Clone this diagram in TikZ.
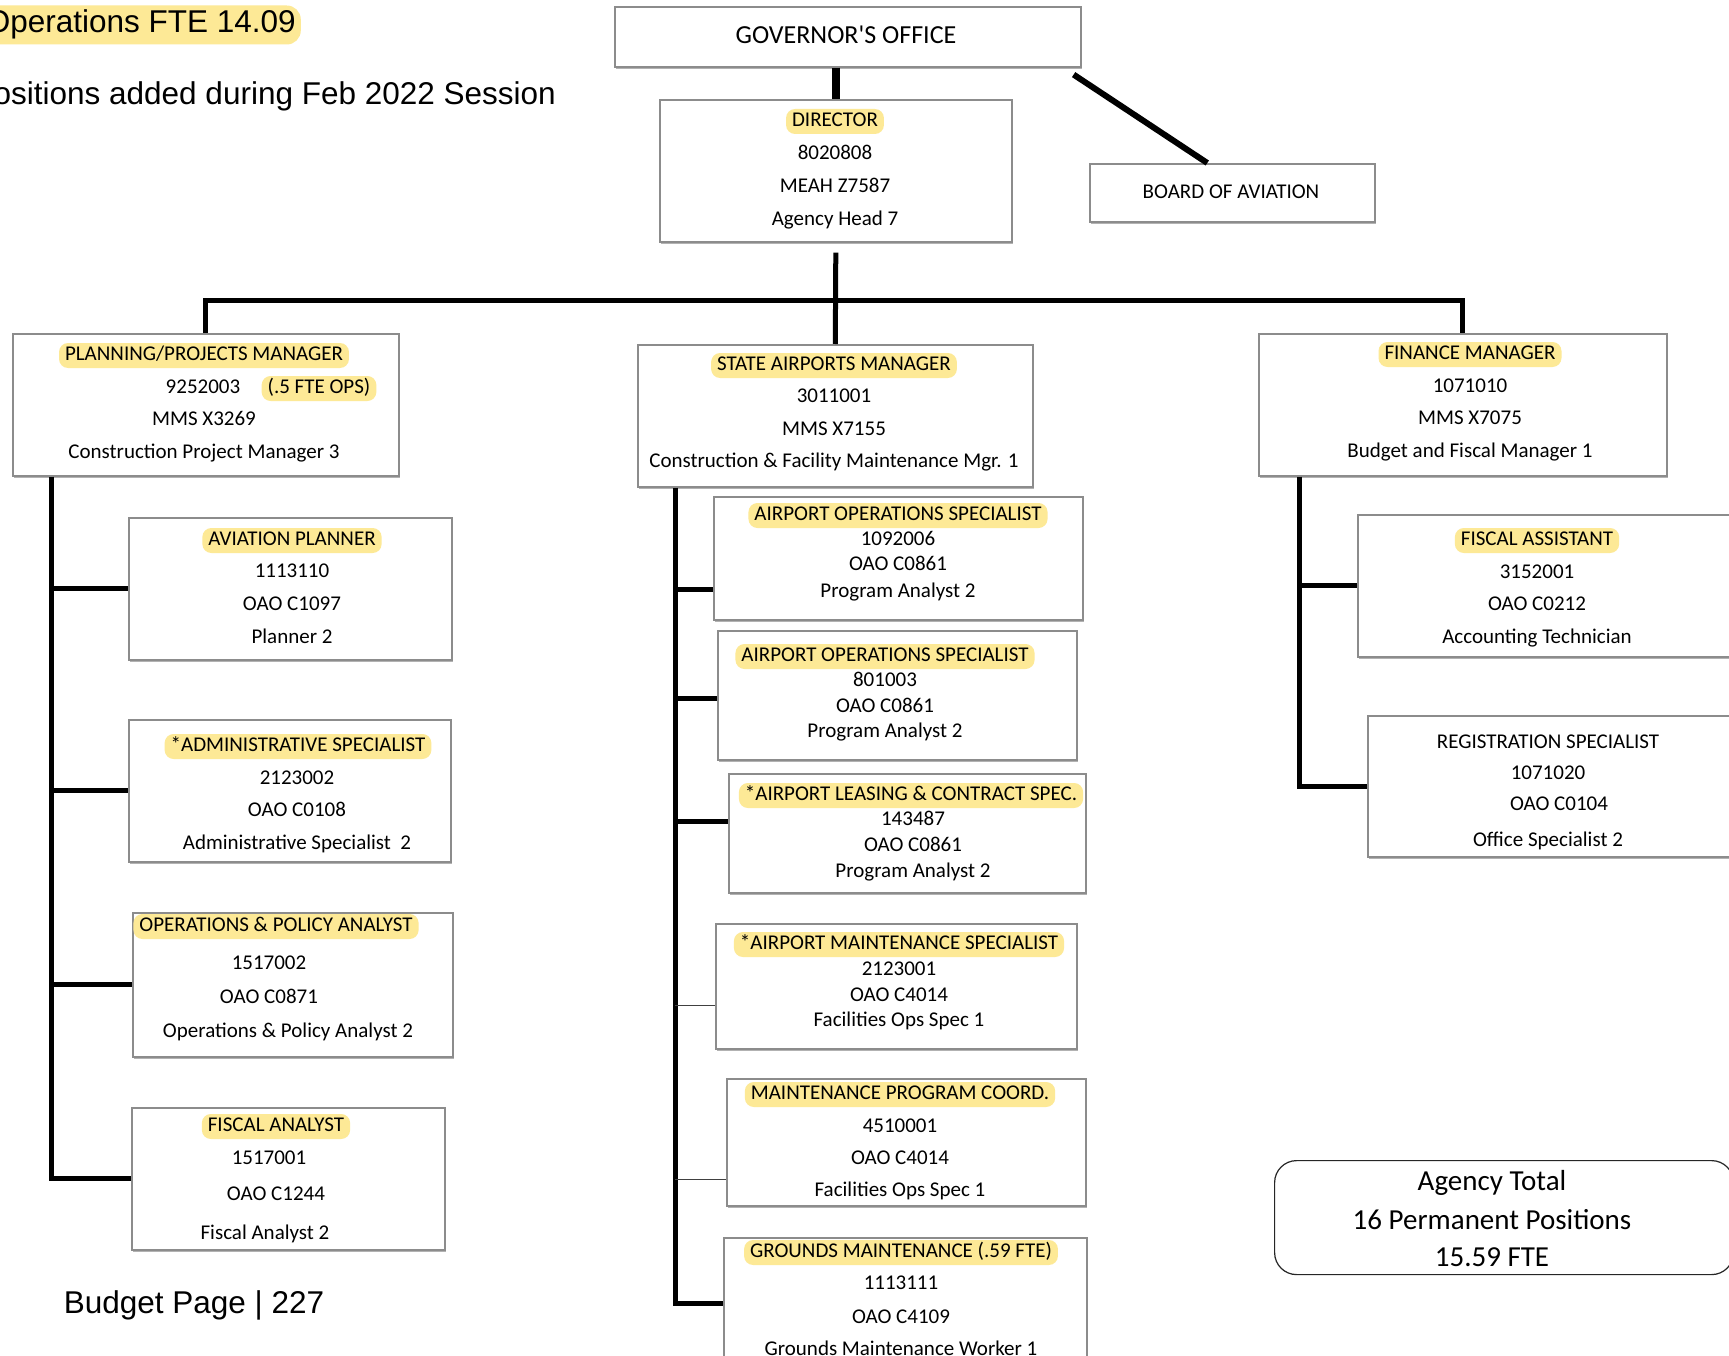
\documentclass[tikz,border=0pt]{standalone}
\usepackage{fontspec}
\setmainfont{Carlito}
\newfontfamily\arialf{Liberation Sans}
\usetikzlibrary{shadows,calc}
\definecolor{hlc}{RGB}{253,233,150}
\definecolor{boxc}{RGB}{140,140,140}
\begin{document}
\begin{tikzpicture}[x=1pt,y=-1pt,
 box/.style={draw=boxc, line width=1.6pt, fill=white, anchor=north west, inner sep=0pt,
   drop shadow={shadow xshift=1.5pt, shadow yshift=-2.5pt, opacity=.3, fill=black}},
 t/.style={font=\fontsize{21}{25}\selectfont, text height=15pt, text depth=5pt, inner sep=0pt, yshift=-2.5pt},
 hl/.style={t, fill=hlc, rounded corners=9pt, inner xsep=6pt, inner ysep=2.5pt},
 conn/.style={line width=5pt, black},
 thinc/.style={line width=1.2pt, black!75},
 big/.style={font=\arialf\fontsize{31.5}{36}\selectfont, inner sep=0pt, text height=23pt, text depth=7pt, yshift=-3pt},
 tot/.style={font=\fontsize{29}{34}\selectfont, inner sep=0pt, text height=20pt, text depth=7pt, yshift=-3pt}
]
\useasboundingbox (0,0) rectangle (1729,1356);
\fill[white] (0,0) rectangle (1729,1356);

% boxes
\node[box, minimum width=466pt, minimum height=60pt] (gov) at (614,6) {};
\node[box, minimum width=352pt, minimum height=142pt] (dir) at (659,99) {};
\node[box, minimum width=285pt, minimum height=58pt] (board) at (1089,163) {};
\node[box, minimum width=386pt, minimum height=142pt] (pl) at (12,333) {};
\node[box, minimum width=395pt, minimum height=142pt] (sa) at (637,344) {};
\node[box, minimum width=408pt, minimum height=142pt] (fm) at (1258,333) {};
\node[box, minimum width=323pt, minimum height=142pt] (av) at (128,517) {};
\node[box, minimum width=322pt, minimum height=142pt] (ad) at (128,719) {};
\node[box, minimum width=320pt, minimum height=144pt] (op) at (132,912) {};
\node[box, minimum width=313pt, minimum height=142pt] (fa) at (131,1107) {};
\node[box, minimum width=369pt, minimum height=123pt] (m1) at (713,496) {};
\node[box, minimum width=359pt, minimum height=129pt] (m2) at (717,630) {};
\node[box, minimum width=357pt, minimum height=119pt] (m3) at (728,773) {};
\node[box, minimum width=361pt, minimum height=125pt] (m4) at (715,923) {};
\node[box, minimum width=359pt, minimum height=127pt] (m5) at (726,1078) {};
\node[box, minimum width=363pt, minimum height=150pt] (m6) at (723,1237) {};
\node[box, minimum width=390pt, minimum height=142pt] (fas) at (1357,514) {};
\node[box, minimum width=380pt, minimum height=141pt] (reg) at (1367,715) {};
\node[draw=black!85, line width=1.2pt, rounded corners=22pt, anchor=north west, inner sep=0pt,
      minimum width=459pt, minimum height=114pt] (tot) at (1274,1160) {};

% connectors
\draw[line width=8pt] (dir.north |- gov.south) -- (dir.north);
\draw[line width=6pt] ([xshift=-8pt,yshift=-7pt]gov.south east) -- ([xshift=-25pt]board.north);
\coordinate (bar) at (835,301);
\draw[conn] ([yshift=-10pt]dir.south) -- (sa.north);
\draw[conn] (pl.north) -- (pl.north |- bar) -- (fm.north |- bar) -- (fm.north);

\coordinate (lt) at ([xshift=39pt]pl.south west);
\draw[conn] (lt) -- (lt |- fa.west) -- (fa.west);
\draw[conn] (lt |- av.west) -- (av.west);
\draw[conn] (lt |- ad.west) -- (ad.west);
\draw[conn] (lt |- op.west) -- (op.west);

\coordinate (mt) at ([xshift=38pt]sa.south west);
\coordinate (m1c) at ([yshift=-31.5pt]m1.west);
\coordinate (m2c) at ([yshift=-3.5pt]m2.west);
\coordinate (m3c) at ([yshift=11.5pt]m3.west);
\coordinate (m4c) at ([yshift=-19.5pt]m4.west);
\coordinate (m5c) at ([yshift=-37.5pt]m5.west);
\coordinate (m6c) at ([yshift=9pt]m6.west);
\draw[conn] (mt) -- (mt |- m6c) -- (m6c);
\draw[conn] (mt |- m1c) -- (m1c);
\draw[conn] (mt |- m2c) -- (m2c);
\draw[conn] (mt |- m3c) -- (m3c);
\draw[thinc] (mt |- m4c) -- (m4c);
\draw[thinc] (mt |- m5c) -- (m5c);

\coordinate (rt) at ([xshift=41pt]fm.south west);
\draw[conn] (rt) -- (rt |- reg.west) -- (reg.west);
\draw[conn] (rt |- fas.west) -- (fas.west);

% header / footer texts
\node[big, anchor=east, fill=hlc, rounded corners=14pt, inner xsep=5pt, inner ysep=4.5pt] (ops) at (301,22) {Operations FTE 14.09};
\node[big, anchor=east] (pos) at (556,94) {Positions added during Feb 2022 Session};
\node[big] (bp) at (194,1302) {Budget Page | 227};

% governor, director, board
\node[t, font=\fontsize{26}{30}\selectfont, text height=18pt, text depth=5pt] (govT) at (846,35) {GOVERNOR\textquotesingle S OFFICE};
\node[hl] (dir1) at (835,119) {DIRECTOR};
\node[t] (dir2) at (835,152) {8020808};
\node[t] (dir3) at (835,185) {MEAH Z7587};
\node[t] (dir4) at (835,218) {Agency Head 7};
\node[t] (boardT) at (1231,191) {BOARD OF AVIATION};

% planning
\node[hl] (pl1) at (204,353) {PLANNING/PROJECTS MANAGER};
\node[t] (pl2a) at (203,386) {9252003};
\node[hl] (pl2b) at (319,386) {(.5 FTE OPS)};
\node[t] (pl3) at (204,418) {MMS X3269};
\node[t] (pl4) at (204,451) {Construction Project Manager 3};

% state airports
\node[hl] (sa1) at (834,363) {STATE AIRPORTS MANAGER};
\node[t] (sa2) at (834,395) {3011001};
\node[t] (sa3) at (834,428) {MMS X7155};
\node[t] (sa4) at (834,460) {Construction \& Facility Maintenance Mgr. 1};

% finance
\node[hl] (fm1) at (1470,352) {FINANCE MANAGER};
\node[t] (fm2) at (1470,385) {1071010};
\node[t] (fm3) at (1470,417) {MMS X7075};
\node[t] (fm4) at (1470,450) {Budget and Fiscal Manager 1};

% left column
\node[hl] (av1) at (292,538) {AVIATION PLANNER};
\node[t] (av2) at (292,570) {1113110};
\node[t] (av3) at (292,603) {OAO C1097};
\node[t] (av4) at (292,636) {Planner 2};

\node[hl] (ad1) at (298,744) {*ADMINISTRATIVE SPECIALIST};
\node[t] (ad2) at (297,777) {2123002};
\node[t] (ad3) at (297,809) {OAO C0108};
\node[t] (ad4) at (297,842) {Administrative Specialist\ \ 2};

\node[hl] (op1) at (276,924) {OPERATIONS \& POLICY ANALYST};
\node[t] (op2) at (269,962) {1517002};
\node[t] (op3) at (269,996) {OAO C0871};
\node[t] (op4) at (288,1030) {Operations \& Policy Analyst 2};

\node[hl] (fa1) at (276,1124) {FISCAL ANALYST};
\node[t] (fa2) at (269,1157) {1517001};
\node[t] (fa3) at (276,1193) {OAO C1244};
\node[t] (fa4) at (265,1232) {Fiscal Analyst 2};

% middle column
\node[hl] (m1a) at (898,513) {AIRPORT OPERATIONS SPECIALIST};
\node[t] (m1b) at (898,538) {1092006};
\node[t] (m1d) at (898,563) {OAO C0861};
\node[t] (m1e) at (898,590) {Program Analyst 2};

\node[hl] (m2a) at (885,654) {AIRPORT OPERATIONS SPECIALIST};
\node[t] (m2b) at (885,679) {801003};
\node[t] (m2d) at (885,705) {OAO C0861};
\node[t] (m2e) at (885,730) {Program Analyst 2};

\node[hl] (m3a) at (911,793) {*AIRPORT LEASING \& CONTRACT SPEC.};
\node[t] (m3b) at (913,818) {143487};
\node[t] (m3d) at (913,844) {OAO C0861};
\node[t] (m3e) at (913,870) {Program Analyst 2};

\node[hl] (m4a) at (899,942) {*AIRPORT MAINTENANCE SPECIALIST};
\node[t] (m4b) at (899,968) {2123001};
\node[t] (m4d) at (899,994) {OAO C4014};
\node[t] (m4e) at (899,1019) {Facilities Ops Spec 1};

\node[hl] (m5a) at (900,1092) {MAINTENANCE PROGRAM COORD.};
\node[t] (m5b) at (900,1125) {4510001};
\node[t] (m5d) at (900,1157) {OAO C4014};
\node[t] (m5e) at (900,1189) {Facilities Ops Spec 1};

\node[hl] (m6a) at (901,1250) {GROUNDS MAINTENANCE (.59 FTE)};
\node[t] (m6b) at (901,1282) {1113111};
\node[t] (m6d) at (901,1316) {OAO C4109};
\node[t] (m6e) at (901,1348) {Grounds Maintenance Worker 1};

% right column
\node[hl] (fas1) at (1537,538) {FISCAL ASSISTANT};
\node[t] (fas2) at (1537,571) {3152001};
\node[t] (fas3) at (1537,603) {OAO C0212};
\node[t] (fas4) at (1537,636) {Accounting Technician};

\node[t] (reg1) at (1548,741) {REGISTRATION SPECIALIST};
\node[t] (reg2) at (1548,772) {1071020};
\node[t] (reg3) at (1559,803) {OAO C0104};
\node[t] (reg4) at (1548,839) {Office Specialist 2};

% agency total
\node[tot] (tot1) at (1492,1181) {Agency Total};
\node[tot] (tot2) at (1492,1220) {16 Permanent Positions};
\node[tot] (tot3) at (1492,1257) {15.59 FTE};
\end{tikzpicture}
\end{document}
